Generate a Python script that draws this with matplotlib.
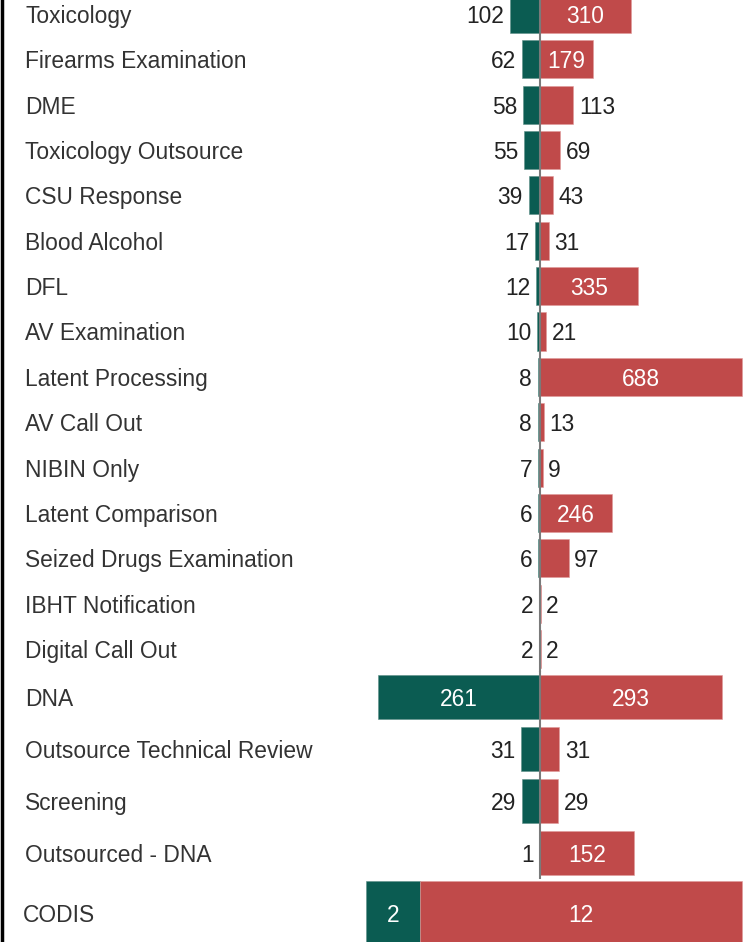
import matplotlib
matplotlib.use("Agg")
import matplotlib.pyplot as plt
from matplotlib.transforms import blended_transform_factory

plt.rcParams['font.family'] = ['Liberation Sans', 'DejaVu Sans']

# data
top_labels = ["Toxicology", "Firearms Examination", "DME", "Toxicology Outsource",
              "CSU Response", "Blood Alcohol", "DFL", "AV Examination",
              "Latent Processing", "AV Call Out", "NIBIN Only", "Latent Comparison",
              "Seized Drugs Examination", "IBHT Notification", "Digital Call Out"]
top_left = [102, 62, 58, 55, 39, 17, 12, 10, 8, 8, 7, 6, 6, 2, 2]
top_right = [310, 179, 113, 69, 43, 31, 335, 21, 688, 13, 9, 246, 97, 2, 2]

dna_labels = ["DNA", "Outsource Technical Review", "Screening", "Outsourced - DNA"]
dna_left = [261, 31, 29, 1]
dna_right = [293, 31, 29, 152]

codis_labels = ["CODIS"]
codis_left = [2]
codis_right = [12]

TEAL = "#0b5c52"
RED = "#c04a4a"
TXT = "#222222"
FS = 16.4

W, H = 749, 942
fig = plt.figure(figsize=(W / 100, H / 100), dpi=100)


def px_axes(y_top, y_bot):
    return fig.add_axes([0, 1 - y_bot / H, 1, (y_bot - y_top) / H])


def value_label(ax, x, y, val, ppu, side):
    width_px = val * ppu
    if width_px > 45:
        ax.text(x / 2, y, str(val), color="white", ha="center", va="center_baseline",
                fontsize=FS, zorder=5)
    elif side == "left":
        ax.annotate(str(val), (x, y), xytext=(-4, 0), textcoords="offset points",
                    ha="right", va="center_baseline", fontsize=FS, color=TXT)
    else:
        ax.annotate(str(val), (x, y), xytext=(4, 0), textcoords="offset points",
                    ha="left", va="center_baseline", fontsize=FS, color=TXT)


def diverging(ax, labels, left, right, center_px, ppu, label_x=25):
    n = len(labels)
    ys = list(range(n))
    neg = [-v for v in left]
    ax.barh(ys, neg, height=0.84, color=TEAL, edgecolor="#5f8f88", linewidth=0.4)
    ax.barh(ys, right, height=0.84, color=RED, edgecolor="#e09a9a", linewidth=0.4)
    ax.axvline(0, color="#7a7a7a", lw=1.5, zorder=4)
    ax.set_xlim(-center_px / ppu, (W - center_px) / ppu)
    ax.set_ylim(n - 0.5, -0.5)
    ax.axis("off")
    tr = blended_transform_factory(fig.transFigure, ax.transData)
    for i in ys:
        ax.text(label_x / W, i, labels[i], transform=tr, ha="left",
                va="center_baseline", fontsize=FS, color="#333333")
        value_label(ax, neg[i], i, left[i], ppu, "left")
        value_label(ax, right[i], i, right[i], ppu, "right")


ax1 = px_axes(-8.7, 671.7)
diverging(ax1, top_labels, top_left, top_right, 540, 0.294)

ax2 = px_axes(671, 879)
diverging(ax2, dna_labels, dna_left, dna_right, 540, 0.62)

# CODIS as one stacked bar
ax3 = px_axes(875.5, 950.5)
ppu3 = (742 - 366) / (codis_left[0] + codis_right[0])
ax3.barh([0], codis_left, height=0.85, color=TEAL, edgecolor="#5f8f88", linewidth=0.4)
ax3.barh([0], codis_right, left=codis_left, height=0.85, color=RED,
         edgecolor="#e09a9a", linewidth=0.4)
ax3.set_xlim(-366 / ppu3, (W - 366) / ppu3)
ax3.set_ylim(0.5, -0.5)
ax3.axis("off")
ax3.text(codis_left[0] / 2, 0, str(codis_left[0]), color="white", ha="center",
         va="center_baseline", fontsize=FS)
ax3.text(codis_left[0] + codis_right[0] / 2, 0, str(codis_right[0]), color="white",
         ha="center", va="center_baseline", fontsize=FS)
tr3 = blended_transform_factory(fig.transFigure, ax3.transData)
ax3.text(23 / W, 0, codis_labels[0], transform=tr3, ha="left", va="center_baseline",
         fontsize=FS, color="#333333")

# dark left border
fig.add_artist(plt.Line2D([1.5 / W, 1.5 / W], [0, 1], color="black", lw=2.5,
                          transform=fig.transFigure))

fig.savefig("out.png", dpi=100)
